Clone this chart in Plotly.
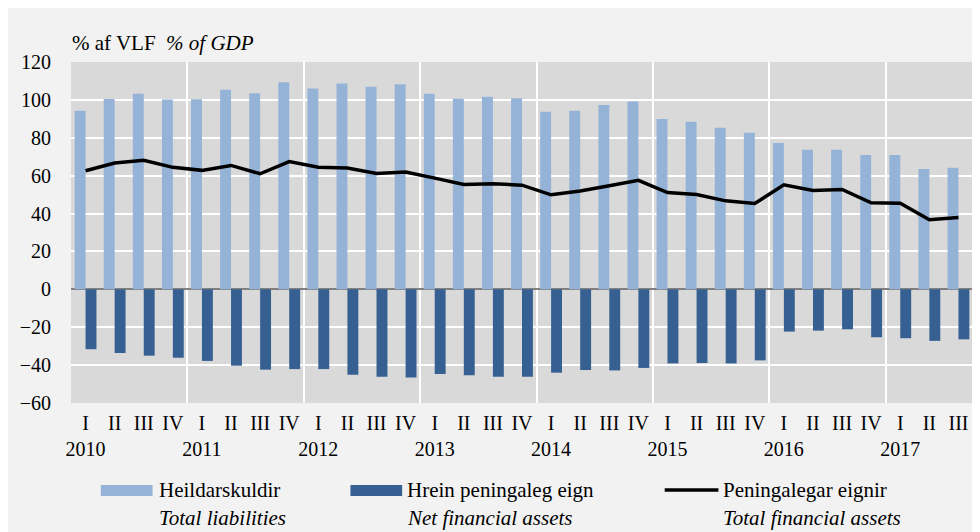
import plotly.graph_objects as go

quarters = ["I", "II", "III", "IV"]
years = ["2010", "2011", "2012", "2013", "2014", "2015", "2016", "2017"]
n_quarters = 31

total_liabilities = [94.3, 100.5, 103.2, 100.2, 100.3, 105.4, 103.5, 109.3,
                     106.0, 108.6, 107.0, 108.3, 103.2, 100.6, 101.7, 100.9,
                     93.8, 94.3, 97.3, 99.1, 89.9, 88.5, 85.3, 82.7,
                     77.2, 73.7, 73.7, 70.9, 70.9, 63.5, 64.2]
net_financial_assets = [-31.6, -33.6, -35.0, -36.1, -37.8, -40.3, -42.4, -42.1,
                        -42.1, -45.1, -46.1, -46.5, -44.7, -45.4, -46.2, -46.2,
                        -44.0, -42.6, -42.8, -41.5, -39.1, -38.9, -39.1, -37.5,
                        -22.3, -21.8, -21.1, -25.3, -25.8, -27.2, -26.4]
total_financial_assets = [62.6, 66.7, 68.1, 64.4, 62.8, 65.4, 61.0, 67.4,
                          64.5, 64.0, 61.2, 61.9, 58.7, 55.4, 55.7, 55.0,
                          49.9, 51.9, 54.7, 57.5, 51.1, 50.1, 46.7, 45.3,
                          55.2, 52.2, 52.7, 45.7, 45.5, 36.7, 37.9]

series_is = ["Heildarskuldir", "Hrein peningaleg eign", "Peningalegar eignir"]
series_en = ["Total liabilities", "Net financial assets", "Total financial assets"]
title_is = "% af VLF"
title_en = "% of GDP"

x = list(range(n_quarters))
ticktext = []
for i in x:
    q = quarters[i % 4]
    ticktext.append(q + "<br>" + years[i // 4] if i % 4 == 0 else q)

C_LIGHT = "#95B3D7"
C_DARK = "#376092"
FONT = "Liberation Serif, Times New Roman, serif"

W, H = 980, 532
OFF = 8  # page body margin
ML, MR, MT, MB = 58, 15, 54, 137
PW, PH = W - ML - MR, H - MT - MB


def px_x(px):
    return (px - OFF - ML) / PW


def px_y(py):
    return (H - MB - (py - OFF)) / PH


fig = go.Figure()
fig.add_trace(go.Bar(x=x, y=total_liabilities, name=series_is[0],
                     marker=dict(color=C_LIGHT, line=dict(width=0))))
fig.add_trace(go.Bar(x=x, y=net_financial_assets, name=series_is[1],
                     marker=dict(color=C_DARK, line=dict(width=0))))
fig.add_trace(go.Scatter(x=x, y=total_financial_assets, name=series_is[2],
                         mode="lines", line=dict(color="black", width=3.5)))

shapes = [
    dict(type="rect", xref="paper", yref="paper",
         x0=px_x(96), x1=px_x(148), y0=px_y(496), y1=px_y(485),
         fillcolor=C_LIGHT, line=dict(width=0)),
    dict(type="rect", xref="paper", yref="paper",
         x0=px_x(347), x1=px_x(399), y0=px_y(496), y1=px_y(485),
         fillcolor=C_DARK, line=dict(width=0)),
    dict(type="line", xref="paper", yref="paper",
         x0=px_x(663), x1=px_x(717), y0=px_y(490), y1=px_y(490),
         line=dict(color="black", width=3.5)),
]

annotations = [
    dict(xref="paper", yref="paper", x=px_x(65), y=px_y(43), xanchor="left",
         yanchor="middle", showarrow=False,
         text=title_is + "  <i>" + title_en + "</i>",
         font=dict(family=FONT, size=21, color="black")),
]
for lx, name_is, name_en in zip([152, 402, 720], series_is, series_en):
    annotations.append(dict(xref="paper", yref="paper", x=px_x(lx), y=px_y(490),
                            xanchor="left", yanchor="middle", showarrow=False,
                            text=name_is,
                            font=dict(family=FONT, size=21, color="black")))
    annotations.append(dict(xref="paper", yref="paper", x=px_x(lx), y=px_y(518),
                            xanchor="left", yanchor="middle", showarrow=False,
                            text="<i>" + name_en + "</i>",
                            font=dict(family=FONT, size=21, color="black")))

fig.update_layout(
    width=W, height=H,
    margin=dict(l=ML, r=MR, t=MT, b=MB, pad=0),
    paper_bgcolor="#F2F2F2",
    plot_bgcolor="#D9D9D9",
    barmode="group", bargap=0.25, bargroupgap=0,
    showlegend=False,
    font=dict(family=FONT, size=20, color="black"),
    shapes=shapes,
    annotations=annotations,
    xaxis=dict(
        range=[-0.5, n_quarters - 0.5],
        tickmode="array", tickvals=x, ticktext=ticktext, tickangle=0,
        showgrid=False, zeroline=False, showline=False,
        ticks="", ticklabelstandoff=6,
        minor=dict(tickmode="linear", tick0=-0.5, dtick=4, showgrid=True,
                   gridcolor="white", gridwidth=2, ticks=""),
        tickfont=dict(family=FONT, size=20, color="black"),
        fixedrange=True,
    ),
    yaxis=dict(
        range=[-60, 120], dtick=20, tick0=0,
        showgrid=True, gridcolor="white", gridwidth=2,
        zeroline=True, zerolinecolor="#808080", zerolinewidth=2,
        showline=False, ticks="", ticklabelstandoff=19,
        tickfont=dict(family=FONT, size=20, color="black"),
        fixedrange=True,
    ),
)

fig.write_html("out.html")
